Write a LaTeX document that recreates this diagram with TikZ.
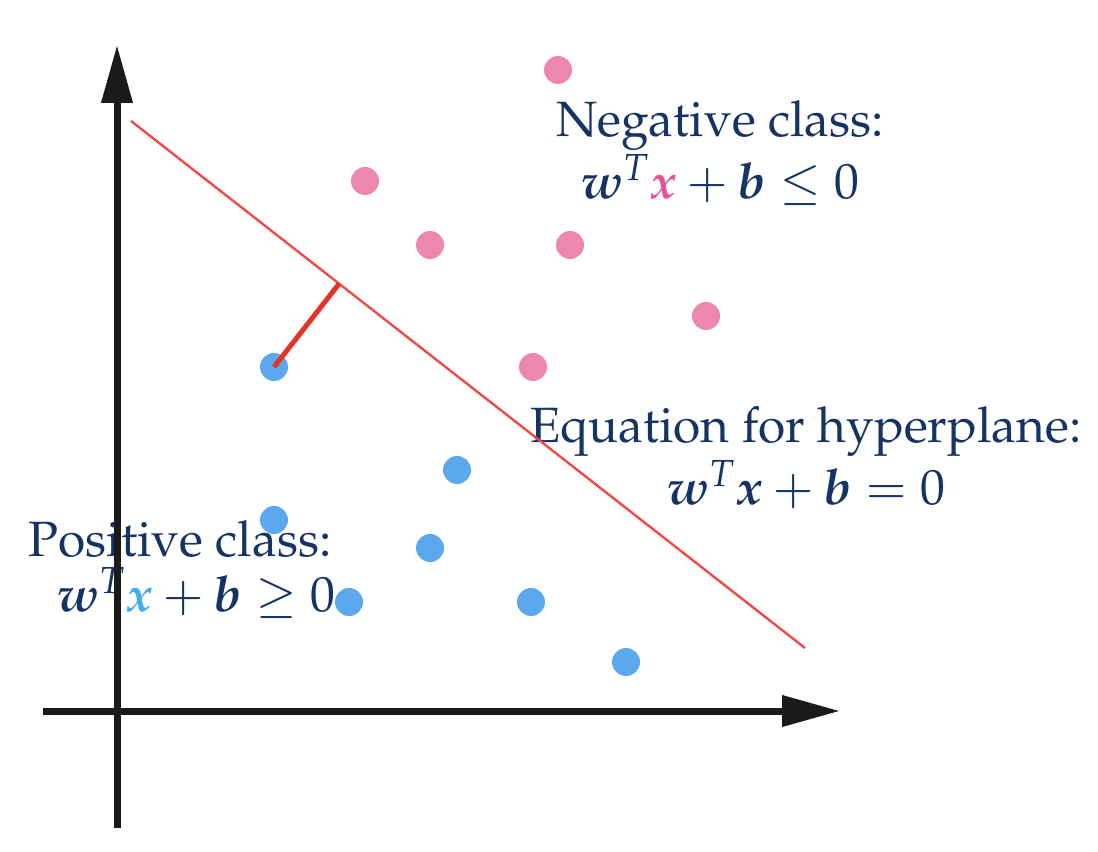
\documentclass[tikz,border=0pt]{standalone}
\usepackage[T1]{fontenc}
\usepackage{mathpazo}
\usepackage{amsmath}
\usepackage{bm}
\usepackage{tikz}
\usetikzlibrary{arrows.meta,calc}
\definecolor{svNavy}{HTML}{163463}
\definecolor{svAxis}{HTML}{1A1A1A}
\definecolor{svPinkDot}{HTML}{EE87AD}
\definecolor{svBlueDot}{HTML}{5BA8EE}
\definecolor{svPinkX}{HTML}{E8529A}
\definecolor{svBlueX}{HTML}{45AEEA}
\definecolor{svPlane}{HTML}{EE4A4A}
\definecolor{svMargin}{HTML}{E5332A}

\begin{document}
\begin{tikzpicture}[x=0.25pt,y=-0.25pt,
    axis/.style={line width=1.75pt, svAxis, -{Triangle[length=14.5pt,width=7.5pt]}},
    negdot/.style={circle, fill=svPinkDot, inner sep=0pt, minimum size=7pt},
    posdot/.style={circle, fill=svBlueDot, inner sep=0pt, minimum size=7pt},
    lbl/.style={align=center, text=svNavy, inner sep=0pt,
                font=\fontsize{12.4}{13.75}\selectfont}]
    \useasboundingbox (0,0) rectangle (1098,852);
    % class labels
    \node[lbl] (neglbl) at (720,153) {Negative class:\\
        $\boldsymbol{w}^{T}\textcolor{svPinkX}{\boldsymbol{x}}+\boldsymbol{b}\leq 0$};
    \node[lbl] (planelbl) at (806,458) {Equation for hyperplane:\\
        $\boldsymbol{w}^{T}\boldsymbol{x}+\boldsymbol{b}=0$};
    \node[lbl] (poslbl) at (180,569) {Positive class:\\
        \hspace{8pt}$\boldsymbol{w}^{T}\textcolor{svBlueX}{\boldsymbol{x}}+\boldsymbol{b}\geq 0$};
    % axes
    \coordinate (ybot) at (117,828);
    \coordinate (ytop) at (117,45);
    \coordinate (xleft) at (43,711);
    \coordinate (xright) at (840,711);
    \draw[axis] (ybot) -- (ytop);
    \draw[axis] (xleft) -- (xright);
    % hyperplane
    \coordinate (h1) at (131,121);
    \coordinate (h2) at (805,648);
    \draw[svPlane, line width=0.6pt] (h1) -- (h2);
    % points
    \foreach \px/\py [count=\i] in {558/70, 365/181, 430/245, 570/245, 706/316, 533/367}
        \node[negdot] (n\i) at (\px,\py) {};
    \foreach \px/\py [count=\i] in {274/367, 457/470, 274/520, 430/548, 349/602, 531/602, 626/662}
        \node[posdot] (p\i) at (\px,\py) {};
    % margin
    \coordinate (foot) at ($(h1)!(p1.center)!(h2)$);
    \draw[svMargin, line width=1.25pt] (p1.center) -- (foot);
\end{tikzpicture}
\end{document}
